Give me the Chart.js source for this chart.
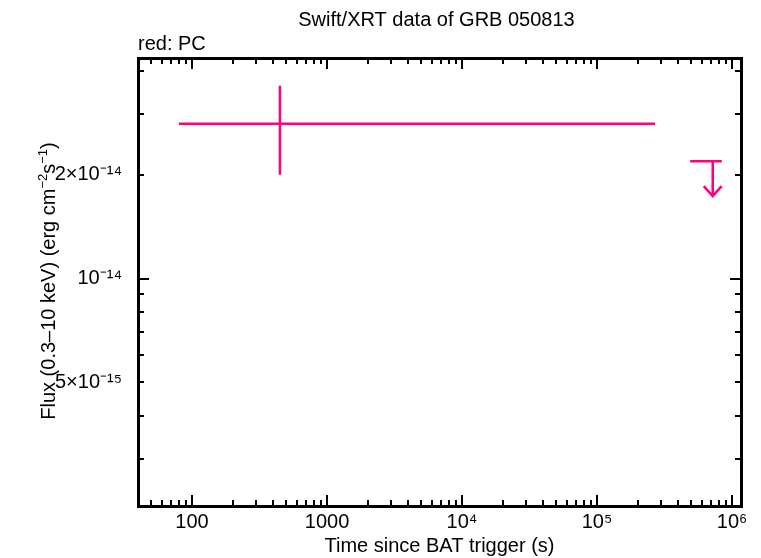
<!DOCTYPE html>
<html>
<head>
<meta charset="utf-8">
<script src="https://cdn.jsdelivr.net/npm/chart.js@4/dist/chart.umd.min.js"></script>
<style>
  body { margin: 0; background: #fff; }
  #wrap { width: 761px; height: 558px; }
</style>
</head>
<body>
<div id="wrap"><canvas id="lc"></canvas></div>
<script>
// PC mode detection (time in s, flux in erg/cm2/s)
const pcTime = [448]
const pcTimeLo = [80]
const pcTimeHi = [2.69e5]
const pcFlux = [2.81e-14]
const pcFluxLo = [2.0e-14]
const pcFluxHi = [3.62e-14]

// PC mode upper limit
const ulTime = [7.2e5]
const ulTimeLo = [4.9e5]
const ulTimeHi = [8.4e5]
const ulFlux = [2.19e-14]

// tick labels
const xTicks = [100, 1000, 1e4, 1e5, 1e6]
const xTickLabels = ["100", "1000", "10⁴", "10⁵", "10⁶"]
const yTicks = [5e-15, 1e-14, 2e-14]
const yTickLabels = ["5×10⁻¹⁵", "10⁻¹⁴", "2×10⁻¹⁴"]

const X_MIN = 39.8, X_MAX = 1.166e6
const Y_MIN = 2.19e-15, Y_MAX = 4.36e-14

const PINK = "#ff0080"
const FONT = "Liberation Sans, Arial, sans-serif"

// minor tick values (2..9 per decade)
function minorTicks(lo, hi) {
    const out = []
    for (let e = Math.floor(Math.log10(lo)); e <= Math.ceil(Math.log10(hi)); e++) {
        for (let m = 1; m <= 9; m++) {
            const v = m * Math.pow(10, e)
            if (v >= lo && v <= hi) out.push({ v: v, major: m === 1 })
        }
    }
    return out
}

// draws text with superscript runs: parts = [[text, isSup], ...]
function richWidth(ctx, parts, size, supSize) {
    let w = 0
    parts.forEach(p => {
        ctx.font = (p[1] ? supSize : size) + "px " + FONT
        w += ctx.measureText(p[0]).width
    })
    return w
}
function drawRich(ctx, parts, x, y, size, supSize, align) {
    const w = richWidth(ctx, parts, size, supSize)
    let cx = align === "center" ? x - w / 2 : x
    ctx.textAlign = "left"
    ctx.textBaseline = "alphabetic"
    parts.forEach(p => {
        ctx.font = (p[1] ? supSize : size) + "px " + FONT
        ctx.fillText(p[0], cx, p[1] ? y - 8 : y)
        cx += ctx.measureText(p[0]).width
    })
}

const framePlugin = {
    id: "frame",
    afterDatasetsDraw(chart) {
        const ctx = chart.ctx
        const a = chart.chartArea
        const xs = chart.scales.x, ys = chart.scales.y
        ctx.save()

        // error bars for detections
        ctx.strokeStyle = PINK
        ctx.lineWidth = 2.5
        for (let i = 0; i < pcTime.length; i++) {
            const px = xs.getPixelForValue(pcTime[i])
            const py = ys.getPixelForValue(pcFlux[i])
            ctx.beginPath()
            ctx.moveTo(xs.getPixelForValue(pcTimeLo[i]), py)
            ctx.lineTo(xs.getPixelForValue(pcTimeHi[i]), py)
            ctx.moveTo(px, ys.getPixelForValue(pcFluxLo[i]))
            ctx.lineTo(px, ys.getPixelForValue(pcFluxHi[i]))
            ctx.stroke()
        }

        // upper limits
        for (let i = 0; i < ulTime.length; i++) {
            const px = xs.getPixelForValue(ulTime[i])
            const py = ys.getPixelForValue(ulFlux[i])
            ctx.beginPath()
            ctx.moveTo(xs.getPixelForValue(ulTimeLo[i]), py)
            ctx.lineTo(xs.getPixelForValue(ulTimeHi[i]), py)
            ctx.moveTo(px, py)
            ctx.lineTo(px, py + 35)
            ctx.moveTo(px - 9, py + 25)
            ctx.lineTo(px, py + 35)
            ctx.lineTo(px + 9, py + 25)
            ctx.stroke()
        }

        // frame
        ctx.strokeStyle = "#000"
        ctx.lineWidth = 3
        ctx.strokeRect(a.left + 0.5, a.top + 0.5, a.right - a.left, a.bottom - a.top)

        // inward ticks on all four sides
        ctx.lineWidth = 2
        ctx.beginPath()
        minorTicks(X_MIN, X_MAX).forEach(t => {
            const px = Math.round(xs.getPixelForValue(t.v))
            const len = t.major ? 11 : 6
            ctx.moveTo(px, a.bottom); ctx.lineTo(px, a.bottom - len)
            ctx.moveTo(px, a.top); ctx.lineTo(px, a.top + len)
        })
        minorTicks(Y_MIN, Y_MAX).forEach(t => {
            const py = Math.round(ys.getPixelForValue(t.v))
            const len = t.major ? 11 : 6
            ctx.moveTo(a.left, py); ctx.lineTo(a.left + len, py)
            ctx.moveTo(a.right, py); ctx.lineTo(a.right - len, py)
        })
        ctx.stroke()

        // titles
        ctx.fillStyle = "#000"
        drawRich(ctx, [["Swift/XRT data of GRB 050813", false]], (a.left + a.right) / 2 - 3, 26, 20, 13, "center")
        drawRich(ctx, [["red: PC", false]], a.left, 50, 20, 13, "left")
        drawRich(ctx, [["Time since BAT trigger (s)", false]], (a.left + a.right) / 2, 552, 20, 13, "center")

        ctx.translate(55, (a.top + a.bottom) / 2 - 1)
        ctx.rotate(-Math.PI / 2)
        drawRich(ctx, [["Flux (0.3–10 keV) (erg cm", false], ["−2", true], ["s", false], ["−1", true], [")", false]],
            0, 0, 20, 13, "center")
        ctx.restore()
    }
}

const ctx = document.getElementById("lc").getContext("2d")
const config = {
    type: "scatter",
    data: {
        datasets: [
            {
                label: "PC",
                data: pcTime.map((t, i) => ({ x: t, y: pcFlux[i] })),
                pointRadius: 0,
                showLine: false,
            },
            {
                label: "PC upper limit",
                data: ulTime.map((t, i) => ({ x: t, y: ulFlux[i] })),
                pointRadius: 0,
                showLine: false,
            },
        ],
    },
    options: {
        responsive: true,
        maintainAspectRatio: false,
        animation: false,
        layout: { padding: { top: 58, right: 20, left: 0, bottom: 0 } },
        plugins: {
            legend: { display: false },
            title: { display: false },
            tooltip: { enabled: false },
        },
        scales: {
            x: {
                type: "logarithmic",
                min: X_MIN,
                max: X_MAX,
                grid: { display: false, drawTicks: false },
                border: { display: false },
                afterBuildTicks: (s) => { s.ticks = xTicks.map(v => ({ value: v })) },
                afterFit: (s) => { s.height = 52 },
                ticks: {
                    autoSkip: false,
                    maxRotation: 0,
                    padding: 4,
                    color: "#000",
                    font: { family: FONT, size: 20 },
                    callback: (v) => xTickLabels[xTicks.indexOf(v)],
                },
            },
            y: {
                type: "logarithmic",
                min: Y_MIN,
                max: Y_MAX,
                grid: { display: false, drawTicks: false },
                border: { display: false },
                afterBuildTicks: (s) => { s.ticks = yTicks.map(v => ({ value: v })) },
                afterFit: (s) => { s.width = 138 },
                ticks: {
                    autoSkip: false,
                    padding: 16,
                    color: "#000",
                    font: { family: FONT, size: 20 },
                    callback: (v) => yTickLabels[yTicks.indexOf(v)],
                },
            },
        },
    },
    plugins: [framePlugin],
}
var lcChart = new Chart(ctx, config)
</script>
</body>
</html>
